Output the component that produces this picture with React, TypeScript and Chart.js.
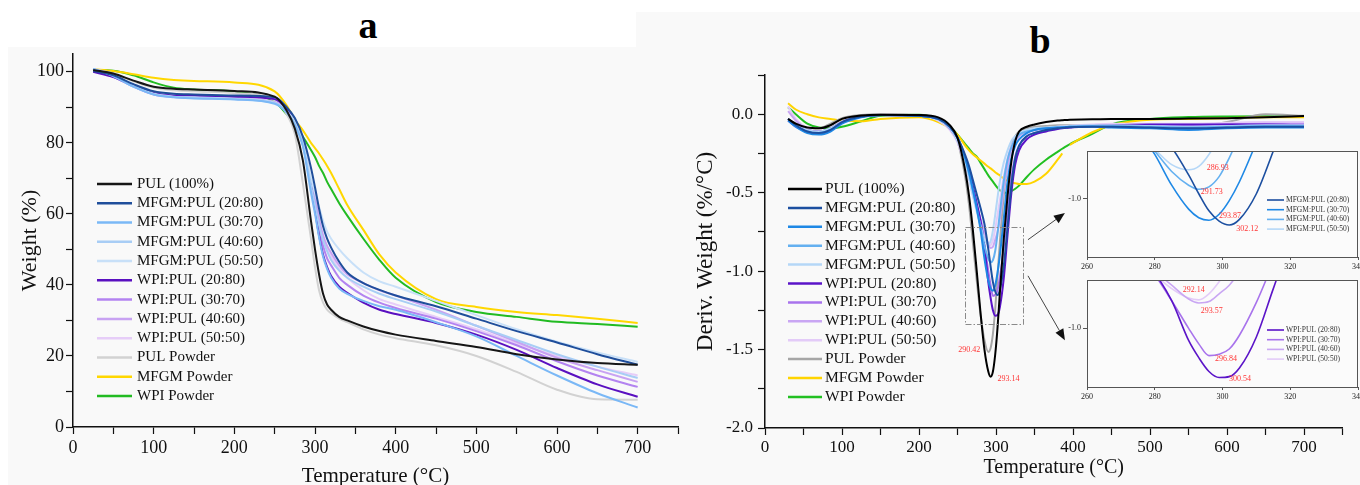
import React, { useEffect, useRef } from 'react';
import { Chart, registerables } from 'chart.js';

Chart.register(...registerables);

const SERIF = '"Liberation Serif", "Times New Roman", Times, serif';

// ---------------- Series names ----------------
const seriesNames = [
  'PUL (100%)',
  'MFGM:PUL (20:80)',
  'MFGM:PUL (30:70)',
  'MFGM:PUL (40:60)',
  'MFGM:PUL (50:50)',
  'WPI:PUL (20:80)',
  'WPI:PUL (30:70)',
  'WPI:PUL (40:60)',
  'WPI:PUL (50:50)',
  'PUL Powder',
  'MFGM Powder',
  'WPI Powder',
];

const colorsA = ['#161616', '#1f4e9b', '#7ab8f6', '#a8cdf5', '#c8e0f8', '#5a10c0', '#b383f0', '#c8a2f2', '#e6cdf8', '#d2d2d2', '#ffd700', '#22bb22'];
const colorsB = ['#000000', '#1c4fa0', '#1e88e5', '#64b0f0', '#b5d7f7', '#5b14c8', '#a873ec', '#c9a6f3', '#e3cbf8', '#a6a6a6', '#ffd400', '#22c022'];

// ---------------- Tick values ----------------
const xTicksMain = [0, 50, 100, 150, 200, 250, 300, 350, 400, 450, 500, 550, 600, 650, 700, 750];
const xLabelsMain = [0, 100, 200, 300, 400, 500, 600, 700];
const yTicksA = [0, 10, 20, 30, 40, 50, 60, 70, 80, 90, 100];
const yLabelsA = [0, 20, 40, 60, 80, 100];
const yTicksB = [-2, -1.75, -1.5, -1.25, -1, -0.75, -0.5, -0.25, 0, 0.25];
const yLabelsB = [-2, -1.5, -1, -0.5, 0];
const xTicksInset = [260, 280, 300, 320, 340];
const yTicksInset = [-1];

// ---------------- Panel a: weight (%) ----------------
const tempA = [25, 50, 75, 100, 125, 150, 200, 250, 265, 275, 285, 295, 300, 305, 310, 315, 320, 330, 340, 360, 380, 400, 450, 500, 550, 600, 650, 700];
const aPUL = [100.5, 99.5, 97.5, 95.8, 95.2, 95.0, 94.6, 93.0, 89.0, 84.0, 75.0, 58.0, 50.0, 43.0, 37.5, 34.5, 33.0, 31.0, 30.0, 28.3, 27.0, 26.0, 24.2, 22.5, 20.5, 19.0, 18.0, 17.5];
const aM2080 = [100.2, 99.0, 96.5, 94.5, 93.8, 93.6, 93.3, 92.8, 90.0, 87.0, 81.7, 73.0, 67.5, 61.5, 56.5, 53.0, 50.5, 46.5, 43.5, 40.5, 38.6, 37.0, 34.0, 30.5, 27.0, 23.8, 20.5, 17.5];
const aM3070 = [100.8, 98.8, 95.8, 93.6, 92.8, 92.5, 92.2, 91.0, 88.5, 85.0, 79.0, 66.0, 60.0, 53.5, 48.0, 44.5, 42.0, 39.0, 37.5, 35.5, 34.0, 33.0, 29.5, 25.5, 20.0, 14.5, 9.5, 5.5];
const aM4060 = [100.8, 98.8, 95.8, 93.7, 92.9, 92.7, 92.3, 91.2, 88.8, 85.5, 79.5, 68.0, 62.5, 57.0, 52.5, 49.5, 47.0, 44.0, 42.0, 39.5, 37.5, 36.0, 32.5, 28.5, 24.5, 20.5, 17.0, 13.8];
const aM5050 = [100.8, 98.9, 96.0, 93.8, 93.0, 92.8, 92.4, 91.3, 89.0, 86.0, 80.5, 70.0, 66.0, 62.0, 58.0, 55.0, 53.0, 50.0, 47.5, 43.5, 41.0, 39.5, 35.5, 31.5, 27.5, 24.0, 21.0, 18.3];
const aW2080 = [100.0, 98.5, 96.0, 94.0, 93.3, 93.2, 93.0, 92.3, 89.5, 86.0, 80.5, 68.0, 61.0, 54.0, 48.5, 45.0, 42.5, 39.5, 37.8, 35.0, 33.0, 31.8, 29.3, 26.0, 21.7, 16.6, 12.0, 8.5];
const aW3070 = [100.8, 98.6, 95.8, 93.6, 92.9, 92.7, 92.3, 91.3, 88.8, 85.3, 79.5, 67.5, 62.5, 56.0, 51.0, 47.5, 45.5, 42.0, 40.0, 37.0, 35.0, 33.5, 30.5, 27.0, 23.0, 18.5, 14.5, 11.3];
const aW4060 = [100.8, 98.7, 95.9, 93.7, 93.0, 92.8, 92.4, 91.4, 89.0, 85.8, 80.0, 69.0, 64.5, 58.5, 54.0, 51.0, 49.0, 45.5, 43.0, 40.5, 38.5, 37.0, 33.0, 28.5, 24.0, 19.5, 16.0, 12.7];
const aW5050 = [100.8, 98.8, 96.0, 93.8, 93.1, 92.9, 92.5, 91.5, 89.2, 86.0, 80.3, 68.5, 64.0, 58.0, 53.0, 50.0, 48.0, 44.5, 42.0, 38.5, 36.0, 34.5, 31.0, 27.5, 23.5, 20.0, 17.0, 14.5];
const aPULp = [100.8, 99.5, 97.3, 95.5, 94.8, 94.5, 94.0, 92.0, 88.0, 82.5, 68.5, 53.0, 45.0, 38.5, 35.0, 33.0, 32.0, 30.5, 29.5, 27.5, 26.0, 25.0, 23.0, 20.0, 15.5, 10.5, 7.8, 7.7];
const aMFGMp = [100.7, 100.2, 99.3, 98.3, 97.7, 97.4, 97.0, 94.5, 90.5, 86.5, 83.5, 80.0, 78.5, 77.0, 75.3, 73.5, 71.5, 67.0, 62.5, 55.5, 48.5, 43.5, 36.0, 33.8, 32.4, 31.5, 30.5, 29.3];
const aWPIp = [100.5, 100.3, 99.0, 97.0, 95.5, 95.0, 94.4, 91.5, 88.0, 85.0, 81.7, 78.0, 76.0, 73.5, 71.5, 69.0, 67.0, 63.0, 59.5, 53.0, 47.0, 42.0, 35.2, 32.4, 31.0, 29.6, 29.0, 28.2];
const seriesA = [aPUL, aM2080, aM3070, aM4060, aM5050, aW2080, aW3070, aW4060, aW5050, aPULp, aMFGMp, aWPIp];

// ---------------- Panel b: derivative weight (%/°C) ----------------
const tempB = [30, 40, 55, 70, 85, 100, 125, 150, 200, 225, 240, 250, 260, 265, 270, 275, 280, 285, 290, 293, 296, 299, 302, 305, 310, 315, 320, 325, 330, 340, 350, 365, 380, 386, 391, 396, 425, 450, 500, 550, 600, 650, 700];
const bPUL = [-0.03, -0.06, -0.085, -0.09, -0.07, -0.03, -0.008, -0.003, -0.005, -0.02, -0.07, -0.15, -0.36, -0.52, -0.74, -1.0, -1.27, -1.5, -1.64, -1.673, -1.64, -1.53, -1.36, -1.14, -0.8, -0.52, -0.3, -0.17, -0.11, -0.08, -0.065, -0.05, -0.04, -0.038, -0.037, -0.036, -0.032, -0.03, -0.03, -0.028, -0.025, -0.02, -0.012];
const bM2080 = [-0.03, -0.07, -0.11, -0.12, -0.1, -0.05, -0.015, -0.005, -0.01, -0.03, -0.08, -0.15, -0.26, -0.33, -0.42, -0.51, -0.6, -0.7, -0.86, -0.97, -1.07, -1.13, -1.153, -1.12, -0.97, -0.72, -0.45, -0.28, -0.2, -0.14, -0.12, -0.1, -0.09, -0.087, -0.085, -0.083, -0.08, -0.08, -0.085, -0.09, -0.085, -0.08, -0.08];
const bM3070 = [-0.04, -0.08, -0.12, -0.13, -0.11, -0.06, -0.02, -0.005, -0.01, -0.03, -0.08, -0.15, -0.28, -0.37, -0.48, -0.6, -0.74, -0.92, -1.06, -1.11, -1.125, -1.09, -1.01, -0.9, -0.67, -0.43, -0.28, -0.2, -0.16, -0.12, -0.1, -0.09, -0.085, -0.083, -0.082, -0.08, -0.08, -0.085, -0.09, -0.1, -0.09, -0.085, -0.085];
const bM4060 = [-0.03, -0.07, -0.11, -0.12, -0.1, -0.055, -0.015, -0.005, -0.01, -0.03, -0.08, -0.15, -0.28, -0.38, -0.49, -0.6, -0.72, -0.84, -0.92, -0.944, -0.93, -0.87, -0.76, -0.63, -0.43, -0.29, -0.21, -0.16, -0.13, -0.11, -0.1, -0.09, -0.085, -0.083, -0.081, -0.08, -0.075, -0.075, -0.08, -0.085, -0.08, -0.075, -0.075];
const bM5050 = [-0.03, -0.07, -0.1, -0.11, -0.09, -0.05, -0.015, -0.005, -0.01, -0.035, -0.09, -0.17, -0.31, -0.41, -0.52, -0.62, -0.71, -0.8, -0.83, -0.81, -0.74, -0.64, -0.53, -0.43, -0.31, -0.23, -0.17, -0.14, -0.12, -0.1, -0.09, -0.085, -0.08, -0.078, -0.077, -0.075, -0.07, -0.07, -0.075, -0.08, -0.075, -0.07, -0.07];
const bW2080 = [-0.03, -0.07, -0.1, -0.11, -0.09, -0.05, -0.015, -0.005, -0.01, -0.03, -0.09, -0.16, -0.28, -0.36, -0.46, -0.57, -0.68, -0.84, -1.07, -1.17, -1.25, -1.285, -1.28, -1.23, -1.05, -0.77, -0.5, -0.32, -0.23, -0.16, -0.13, -0.11, -0.095, -0.09, -0.087, -0.085, -0.075, -0.07, -0.065, -0.065, -0.065, -0.065, -0.07];
const bW3070 = [-0.04, -0.08, -0.11, -0.12, -0.1, -0.055, -0.015, -0.005, -0.01, -0.03, -0.08, -0.15, -0.28, -0.37, -0.47, -0.57, -0.69, -0.84, -1.0, -1.09, -1.158, -1.15, -1.12, -1.04, -0.85, -0.62, -0.41, -0.27, -0.2, -0.14, -0.12, -0.1, -0.09, -0.087, -0.085, -0.083, -0.075, -0.07, -0.07, -0.07, -0.065, -0.065, -0.065];
const bW4060 = [0.02, -0.04, -0.1, -0.12, -0.1, -0.05, -0.015, -0.005, -0.01, -0.035, -0.09, -0.17, -0.31, -0.4, -0.5, -0.59, -0.67, -0.75, -0.83, -0.853, -0.845, -0.8, -0.75, -0.67, -0.48, -0.33, -0.23, -0.17, -0.14, -0.11, -0.1, -0.09, -0.085, -0.082, -0.08, -0.078, -0.07, -0.07, -0.07, -0.07, -0.065, -0.06, -0.06];
const bW5050 = [0.05, -0.03, -0.09, -0.11, -0.09, -0.045, -0.012, -0.004, -0.01, -0.04, -0.1, -0.18, -0.33, -0.42, -0.52, -0.61, -0.69, -0.77, -0.825, -0.835, -0.8, -0.73, -0.64, -0.55, -0.4, -0.28, -0.2, -0.16, -0.13, -0.11, -0.1, -0.09, -0.08, -0.078, -0.076, -0.074, -0.065, -0.06, -0.06, -0.06, -0.055, -0.05, -0.05];
const bPULp = [-0.04, -0.07, -0.09, -0.09, -0.06, -0.025, -0.005, 0.0, -0.005, -0.025, -0.08, -0.17, -0.4, -0.58, -0.82, -1.06, -1.28, -1.44, -1.515, -1.49, -1.4, -1.24, -1.03, -0.82, -0.52, -0.32, -0.2, -0.14, -0.11, -0.09, -0.08, -0.075, -0.07, -0.07, -0.07, -0.07, -0.07, -0.07, -0.075, -0.08, -0.05, 0.0, -0.01];
const bMFGMp = [0.07, 0.03, 0.0, -0.02, -0.03, -0.04, -0.045, -0.03, -0.02, -0.05, -0.09, -0.13, -0.2, -0.23, -0.255, -0.275, -0.295, -0.315, -0.335, -0.345, -0.357, -0.37, -0.38, -0.39, -0.41, -0.425, -0.435, -0.44, -0.445, -0.445, -0.43, -0.38, -0.29, -0.25, null, -0.195, -0.115, -0.07, -0.035, -0.03, -0.025, -0.02, -0.02];
const bWPIp = [0.045, 0.0, -0.06, -0.085, -0.09, -0.08, -0.045, -0.01, -0.004, -0.035, -0.08, -0.13, -0.19, -0.22, -0.25, -0.27, -0.31, -0.35, -0.39, -0.41, -0.43, -0.45, -0.47, -0.485, -0.5, -0.5, -0.49, -0.475, -0.455, -0.4, -0.35, -0.29, -0.24, -0.22, -0.205, -0.19, -0.125, -0.065, -0.03, -0.018, -0.014, -0.013, -0.013];
const seriesB = [bPUL, bM2080, bM3070, bM4060, bM5050, bW2080, bW3070, bW4060, bW5050, bPULp, bMFGMp, bWPIp];

// Insets: which series, and zoom window
const insetMFGM = [1, 2, 3, 4];
const insetWPI = [5, 6, 7, 8];
const zoomT = [260, 340];
const zoomD = [-1.34, -0.72];
const boxT = [260, 335];

// Peak annotations (°C)
const mainPeakLabels = [
  { ds: 9, text: '290.42', dx: -8, dy: -2, align: 'right' },
  { ds: 0, text: '293.14', dx: 7, dy: 2, align: 'left' },
];
const insetMLabels = [
  { ds: 0, text: '302.12', dx: 7, dy: 4, align: 'left' },
  { ds: 1, text: '293.87', dx: 10, dy: -4, align: 'left' },
  { ds: 2, text: '291.73', dx: 2, dy: 3, align: 'left' },
  { ds: 3, text: '286.93', dx: 18, dy: -2, align: 'left' },
];
const insetWLabels = [
  { ds: 0, text: '300.54', dx: 10, dy: 1, align: 'left' },
  { ds: 1, text: '296.84', dx: 6, dy: 3, align: 'left' },
  { ds: 2, text: '293.57', dx: 2, dy: 8, align: 'left' },
  { ds: 3, text: '292.14', dx: -16, dy: -10, align: 'left' },
];

// arrows from the zoom box to the insets (data coordinates of panel b)
const arrowT = [341.5, 389.5];
const arrowFromD = [-0.8, -1.03];
const arrowToD = [-0.63, -1.44];

// ---------------- helpers ----------------
function pts(xs: number[], ys: (number | null)[]) {
  return xs.map((x, i) => ({ x, y: ys[i] }));
}

function hasVal(list: number[], v: number) {
  return list.some((t) => Math.abs(t - v) < 1e-6);
}

function setTicks(list: number[]) {
  return (s: any) => { s.ticks = list.map((v) => ({ value: v })); };
}

function legendPlugin(id: string, cfg: any) {
  return {
    id,
    afterDatasetsDraw(chart: any) {
      const ctx = chart.ctx;
      ctx.save();
      ctx.font = `${cfg.size}px ${SERIF}`;
      ctx.textBaseline = 'middle';
      ctx.textAlign = 'left';
      chart.data.datasets.forEach((ds: any, i: number) => {
        const y = cfg.y + i * cfg.row;
        ctx.strokeStyle = ds.borderColor;
        ctx.lineWidth = cfg.lw;
        ctx.beginPath();
        ctx.moveTo(cfg.x, y);
        ctx.lineTo(cfg.x + cfg.len, y);
        ctx.stroke();
        ctx.fillStyle = cfg.color;
        ctx.fillText(ds.label, cfg.x + cfg.len + cfg.gap, y);
      });
      ctx.restore();
    },
  };
}

function peakPlugin(id: string, items: any[]) {
  return {
    id,
    afterDatasetsDraw(chart: any) {
      const { ctx } = chart;
      const xs = chart.scales.x;
      const ys = chart.scales.y;
      ctx.save();
      ctx.font = `8px ${SERIF}`;
      ctx.fillStyle = '#ff3535';
      ctx.textBaseline = 'middle';
      items.forEach((it) => {
        const data = chart.data.datasets[it.ds].data;
        let best: any = null;
        data.forEach((p: any) => {
          if (p.y !== null && p.x >= 250 && p.x <= 340 && (!best || p.y < best.y)) best = p;
        });
        if (!best) return;
        ctx.textAlign = it.align;
        ctx.fillText(it.text, xs.getPixelForValue(best.x) + it.dx, ys.getPixelForValue(best.y) + it.dy);
      });
      ctx.restore();
    },
  };
}

const zoomAnnot = {
  id: 'zoomAnnot',
  afterDatasetsDraw(chart: any) {
    const { ctx } = chart;
    const xs = chart.scales.x;
    const ys = chart.scales.y;
    ctx.save();
    const x0 = xs.getPixelForValue(boxT[0]);
    const x1 = xs.getPixelForValue(boxT[1]);
    const y0 = ys.getPixelForValue(zoomD[1]);
    const y1 = ys.getPixelForValue(zoomD[0]);
    ctx.strokeStyle = '#8a8a8a';
    ctx.lineWidth = 1;
    ctx.setLineDash([6, 2, 1.5, 2]);
    ctx.strokeRect(Math.round(x0) + 0.5, Math.round(y0) + 0.5, Math.round(x1 - x0), Math.round(y1 - y0));
    ctx.setLineDash([]);
    ctx.strokeStyle = '#444';
    ctx.fillStyle = '#111';
    for (let i = 0; i < arrowFromD.length; i++) {
      const ax = xs.getPixelForValue(arrowT[0]);
      const ay = ys.getPixelForValue(arrowFromD[i]);
      const bx = xs.getPixelForValue(arrowT[1]);
      const by = ys.getPixelForValue(arrowToD[i]);
      const ang = Math.atan2(by - ay, bx - ax);
      const hl = 11, hw = 4.5;
      const baseX = bx - hl * Math.cos(ang);
      const baseY = by - hl * Math.sin(ang);
      ctx.beginPath();
      ctx.moveTo(ax, ay);
      ctx.lineTo(baseX, baseY);
      ctx.stroke();
      ctx.beginPath();
      ctx.moveTo(bx, by);
      ctx.lineTo(baseX + hw * Math.sin(ang), baseY - hw * Math.cos(ang));
      ctx.lineTo(baseX - hw * Math.sin(ang), baseY + hw * Math.cos(ang));
      ctx.closePath();
      ctx.fill();
    }
    ctx.restore();
  },
};

const insetFrame = {
  id: 'insetFrame',
  beforeDraw(chart: any) {
    const { ctx, chartArea: a } = chart;
    ctx.save();
    ctx.fillStyle = '#fbfbfb';
    ctx.fillRect(a.left, a.top, a.right - a.left, a.bottom - a.top);
    ctx.restore();
  },
  afterDraw(chart: any) {
    const { ctx, chartArea: a } = chart;
    ctx.save();
    ctx.strokeStyle = '#555';
    ctx.lineWidth = 1;
    ctx.strokeRect(Math.round(a.left) + 0.5, Math.round(a.top) + 0.5, Math.round(a.right - a.left) - 1, Math.round(a.bottom - a.top));
    ctx.restore();
  },
};

function axisCommon(tickLen: number, tickSize: number, pad: number) {
  return {
    grid: { display: true, drawOnChartArea: false, drawTicks: true, tickLength: tickLen, tickColor: '#111', tickWidth: 1.2 },
    border: { display: true, color: '#111', width: 1.5 },
    ticks: { font: { family: SERIF, size: tickSize }, color: '#111', padding: pad, autoSkip: false, maxRotation: 0, minRotation: 0 },
  };
}

function lineDatasets(xs: number[], all: any[], idx: number[], colors: string[], width: number) {
  return idx.map((k) => ({
    label: seriesNames[k],
    data: pts(xs, all[k]),
    borderColor: colors[k],
    backgroundColor: colors[k],
    borderWidth: width,
    pointRadius: 0,
    fill: false,
    spanGaps: false,
    cubicInterpolationMode: 'monotone',
  }));
}

const allIdx = seriesNames.map((_, i) => i);

function buildA(canvas: HTMLCanvasElement) {
  const cx = axisCommon(7, 18, 3);
  const cy = axisCommon(7, 18, 2);
  return new Chart(canvas, {
    type: 'line',
    data: { datasets: lineDatasets(tempA, seriesA, allIdx, colorsA, 2) as any },
    options: {
      responsive: false,
      animation: false,
      events: [],
      layout: { padding: { left: 0, right: 12, top: 54, bottom: 0 } },
      plugins: { legend: { display: false }, tooltip: { enabled: false } },
      scales: {
        x: {
          type: 'linear', min: 0, max: 750,
          grid: cx.grid, border: cx.border,
          ticks: { ...cx.ticks, callback: (v: any) => (hasVal(xLabelsMain, v) ? String(Math.round(v)) : '') },
          afterBuildTicks: setTicks(xTicksMain),
          title: { display: true, text: 'Temperature (°C)', color: '#111', font: { family: SERIF, size: 21, lineHeight: 1 }, padding: { top: 0, bottom: -1.5 } },
          afterFit: (s: any) => { s.height = 58; s.paddingLeft = 0; s.paddingRight = 0; },
        },
        y: {
          type: 'linear', min: 0, max: 105,
          grid: cy.grid, border: cy.border,
          ticks: { ...cy.ticks, callback: (v: any) => (hasVal(yLabelsA, v) ? String(Math.round(v)) : '') },
          afterBuildTicks: setTicks(yTicksA),
          title: { display: true, text: 'Weight (%)', color: '#111', font: { family: SERIF, size: 22, lineHeight: 1 }, padding: { top: 19, bottom: 0 } },
          afterFit: (s: any) => { s.width = 73; s.paddingTop = 0; s.paddingBottom = 0; },
        },
      },
    } as any,
    plugins: [legendPlugin('legendA', { x: 97, y: 184, row: 19.27, len: 35, gap: 5, size: 15, lw: 2.5, color: '#111' })],
  });
}

function buildB(canvas: HTMLCanvasElement) {
  const cx = axisCommon(7, 17, 2);
  const cy = axisCommon(7, 17, 5);
  return new Chart(canvas, {
    type: 'line',
    data: { datasets: lineDatasets(tempB, seriesB, allIdx, colorsB, 2) as any },
    options: {
      responsive: false,
      animation: false,
      events: [],
      layout: { padding: { left: 0, right: 17.5, top: 75, bottom: 0 } },
      plugins: { legend: { display: false }, tooltip: { enabled: false } },
      scales: {
        x: {
          type: 'linear', min: 0, max: 750,
          grid: cx.grid, border: cx.border,
          ticks: { ...cx.ticks, callback: (v: any) => (hasVal(xLabelsMain, v) ? String(Math.round(v)) : '') },
          afterBuildTicks: setTicks(xTicksMain),
          title: { display: true, text: 'Temperature (°C)', color: '#111', font: { family: SERIF, size: 20, lineHeight: 1 }, padding: { top: 0, bottom: 7 } },
          afterFit: (s: any) => { s.height = 57; s.paddingLeft = 0; s.paddingRight = 0; },
        },
        y: {
          type: 'linear', min: -2, max: 0.25,
          grid: cy.grid, border: cy.border,
          ticks: { ...cy.ticks, callback: (v: any) => (hasVal(yLabelsB, v) ? (Math.abs(v) < 1e-9 ? 0 : v).toFixed(1) : '') },
          afterBuildTicks: setTicks(yTicksB),
          title: { display: true, text: 'Deriv. Weight (%/°C)', color: '#111', font: { family: SERIF, size: 23, lineHeight: 1 }, padding: { top: 58.5, bottom: 0 } },
          afterFit: (s: any) => { s.width = 129; s.paddingTop = 0; s.paddingBottom = 0; },
        },
      },
    } as any,
    plugins: [
      zoomAnnot,
      peakPlugin('peaksB', mainPeakLabels),
      legendPlugin('legendB', { x: 152, y: 189, row: 18.9, len: 34, gap: 3, size: 15.5, lw: 2.5, color: '#111' }),
    ],
  });
}

function buildInset(idx: number[], labels: any[], padTop: number) {
  return (canvas: HTMLCanvasElement) => new Chart(canvas, {
    type: 'line',
    data: { datasets: lineDatasets(tempB, seriesB, idx, colorsB, 1.6) as any },
    options: {
      responsive: false,
      animation: false,
      events: [],
      layout: { padding: { left: 0, right: 2, top: padTop, bottom: 0 } },
      plugins: { legend: { display: false }, tooltip: { enabled: false } },
      scales: {
        x: {
          type: 'linear', min: zoomT[0], max: zoomT[1],
          grid: { display: true, drawOnChartArea: false, drawTicks: true, tickLength: 3, tickColor: '#555', tickWidth: 1 },
          border: { display: false },
          ticks: { font: { family: SERIF, size: 8 }, color: '#222', padding: 2, autoSkip: false, maxRotation: 0, callback: (v: any) => String(Math.round(v)) },
          afterBuildTicks: setTicks(xTicksInset),
          afterFit: (s: any) => { s.height = 18; s.paddingLeft = 0; s.paddingRight = 0; },
        },
        y: {
          type: 'linear', min: zoomD[0], max: zoomD[1],
          grid: { display: true, drawOnChartArea: false, drawTicks: true, tickLength: 4, tickColor: '#555', tickWidth: 1 },
          border: { display: false },
          ticks: { font: { family: SERIF, size: 8 }, color: '#222', padding: 2, callback: (v: any) => Number(v).toFixed(1) },
          afterBuildTicks: setTicks(yTicksInset),
          afterFit: (s: any) => { s.width = 57; s.paddingTop = 0; s.paddingBottom = 0; },
        },
      },
    } as any,
    plugins: [
      insetFrame,
      peakPlugin('peaksInset', labels),
      legendPlugin('legendInset', { x: 237, y: 60, row: 9.7, len: 17, gap: 2, size: 7.5, lw: 1.6, color: '#333' }),
    ],
  });
}

function ChartBox(props: { left: number; top: number; width: number; height: number; build: (c: HTMLCanvasElement) => any }) {
  const ref = useRef<HTMLCanvasElement>(null);
  useEffect(() => {
    const chart = props.build(ref.current as HTMLCanvasElement);
    return () => chart.destroy();
  }, []);
  return (
    <div style={{ position: 'absolute', left: props.left, top: props.top, width: props.width, height: props.height }}>
      <canvas ref={ref} width={props.width} height={props.height} style={{ display: 'block', width: props.width, height: props.height }} />
    </div>
  );
}

const titleStyle: any = {
  position: 'absolute', width: 80, textAlign: 'center', fontFamily: SERIF, fontWeight: 'bold', fontSize: 38, lineHeight: '38px', color: '#000',
};

export default function App() {
  return (
    <div style={{ position: 'absolute', left: 0, top: 0, width: 1360, height: 485, background: '#ffffff', overflow: 'hidden' }}>
      <div style={{ position: 'absolute', left: 8, top: 47, width: 628, height: 438, background: '#f9f9f9' }} />
      <div style={{ position: 'absolute', left: 636, top: 12, width: 724, height: 473, background: '#f9f9f9' }} />
      <div style={{ ...titleStyle, left: 328, top: 6 }}>a</div>
      <div style={{ ...titleStyle, left: 1000, top: 21 }}>b</div>
      <ChartBox left={0} top={0} width={690} height={485} build={buildA} />
      <ChartBox left={636} top={0} width={724} height={485} build={buildB} />
      <ChartBox left={1030} top={140} width={330} height={135} build={buildInset(insetMFGM, insetMLabels, 11)} />
      <ChartBox left={1030} top={270} width={330} height={135} build={buildInset(insetWPI, insetWLabels, 10)} />
    </div>
  );
}
